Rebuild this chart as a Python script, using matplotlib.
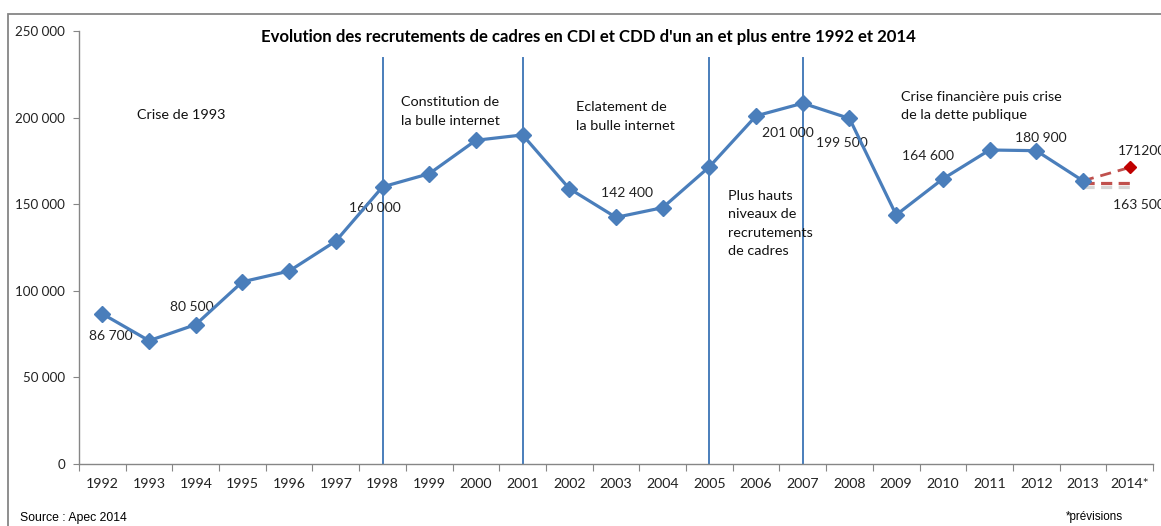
import matplotlib
matplotlib.use("Agg")
import matplotlib.pyplot as plt
import matplotlib.patches as mpatches
import matplotlib.patheffects as pe
from matplotlib.ticker import FixedLocator, FuncFormatter

# données
annees = ["1992", "1993", "1994", "1995", "1996", "1997", "1998", "1999", "2000",
          "2001", "2002", "2003", "2004", "2005", "2006", "2007", "2008", "2009",
          "2010", "2011", "2012", "2013", "2014*"]
recrutements = [86700, 71200, 80500, 105200, 111400, 128700, 160000, 167600, 186900,
                190000, 159000, 142400, 148000, 171600, 201000, 208300, 199500, 143800,
                164600, 181300, 180900, 163500]
prevision_2014 = 171200
ruptures = ["1998", "2001", "2005", "2007"]

# étiquettes : (index, valeur affichée, décalage x, décalage y en pixels, alignement)
etiquettes = [
    (0, "86 700", 8, -22, "center"),
    (2, "80 500", -4, 18, "center"),
    (6, "160 000", -8, -21, "center"),
    (11, "142 400", 11, 24, "center"),
    (14, "201 000", 32, -17, "center"),
    (16, "199 500", -8, -25, "center"),
    (18, "164 600", -15, 23, "center"),
    (20, "180 900", 5, 13, "center"),
    (21, "163 500", 30, -24, "left"),
]

periodes = [
    (0.75, 201500, "Crise de 1993"),
    (6.4, 203500, "Constitution de\nla bulle internet"),
    (10.15, 200600, "Eclatement de\nla bulle internet"),
    (13.4, 138900, "Plus hauts\nniveaux de\nrecrutements\nde cadres"),
    (17.1, 206700, "Crise financière puis crise\nde la dette publique"),
]

bleu = "#4A7EBB"
rouge = "#C0504D"
gris = "#868686"
police = "Lato"

fig = plt.figure(figsize=(11.61, 5.26), dpi=100)
ax = fig.add_axes([79 / 1161, 1 - 464 / 526, (1153 - 79) / 1161, (464 - 31) / 526])

# cadre gris du graphique
fig.patches.append(mpatches.Rectangle((8 / 1161, -0.1), 1.2, 1 - 14 / 526 + 0.1,
                                      transform=fig.transFigure, fill=False,
                                      edgecolor=gris, linewidth=1.3))

x = list(range(len(recrutements)))
ax.plot(x, recrutements, color=bleu, lw=2.3, marker="D", markersize=8.5, zorder=4)

# prévision 2014
i13 = len(recrutements) - 1
ax.plot([i13, i13 + 1], [recrutements[-1], prevision_2014], color=rouge, lw=2,
        ls=(0, (4, 2.5)), zorder=3)
ax.plot([i13, i13 + 1.08], [recrutements[-1] - 1200, recrutements[-1] - 1200], color=rouge,
        lw=2.3, ls=(0, (3.5, 2)), zorder=3,
        path_effects=[pe.SimpleLineShadow(offset=(0, -3), shadow_color="0.55", alpha=0.35),
                      pe.Normal()])
ax.plot([i13 + 1], [prevision_2014], color="#C00000", marker="D", markersize=6.5, ls="none",
        zorder=5)

# lignes verticales des ruptures
for a in ruptures:
    xi = annees.index(a)
    ax.plot([xi, xi], [0, 234500], color=bleu, lw=1.4, zorder=2)

for i, txt, dx, dy, ha in etiquettes:
    ax.annotate(txt, (i, recrutements[i]), xytext=(dx, dy), textcoords="offset pixels",
                ha=ha, va="center", fontsize=10, family=police, color="#222222")
ax.annotate("171200", (i13 + 1, prevision_2014), xytext=(-12, 16), textcoords="offset pixels",
            ha="left", va="center", fontsize=10, family=police, color="#222222",
            annotation_clip=False)

for xi, yi, txt in periodes:
    ax.text(xi, yi, txt, ha="left", va="center", fontsize=10.4, family=police,
            linespacing=1.62, color="#111111")

ax.set_xlim(-0.5, len(annees) - 0.5)
ax.set_ylim(0, 250000)

ax.xaxis.set_major_locator(FixedLocator([k - 0.5 for k in range(len(annees) + 1)]))
ax.xaxis.set_minor_locator(FixedLocator(list(range(len(annees)))))
ax.xaxis.set_major_formatter(FuncFormatter(lambda v, p: ""))
ax.xaxis.set_minor_formatter(FuncFormatter(lambda v, p: annees[int(round(v))]))
ax.tick_params(axis="x", which="major", length=5, color=gris, direction="out")
ax.tick_params(axis="x", which="minor", length=0, pad=10, labelsize=10.2)

ax.set_yticks(range(0, 250001, 50000))
ax.yaxis.set_major_formatter(FuncFormatter(lambda v, p: f"{int(v):,}".replace(",", " ")))
ax.tick_params(axis="y", length=4, color=gris, pad=6, labelsize=9.6)
for lab in ax.get_xticklabels(which="minor") + ax.get_yticklabels():
    lab.set_family(police)
    lab.set_color("#222222")

for s in ["top", "right"]:
    ax.spines[s].set_visible(False)
for s in ["left", "bottom"]:
    ax.spines[s].set_color(gris)
    ax.spines[s].set_linewidth(1)

fig.text(588 / 1161, 1 - 37 / 526,
         "Evolution des recrutements de cadres en CDI et CDD d'un an et plus entre 1992 et 2014",
         ha="center", va="center", fontsize=12.1, fontweight="bold", family=police)
fig.text(20 / 1161, 1 - 518 / 526, "Source : Apec 2014", ha="left", va="center",
         fontsize=8.8, family="Liberation Sans")
fig.text(1066 / 1161, 1 - 517 / 526, "*prévisions", ha="left", va="center",
         fontsize=8.4, family="Liberation Sans")

fig.savefig("out.png", dpi=100)
